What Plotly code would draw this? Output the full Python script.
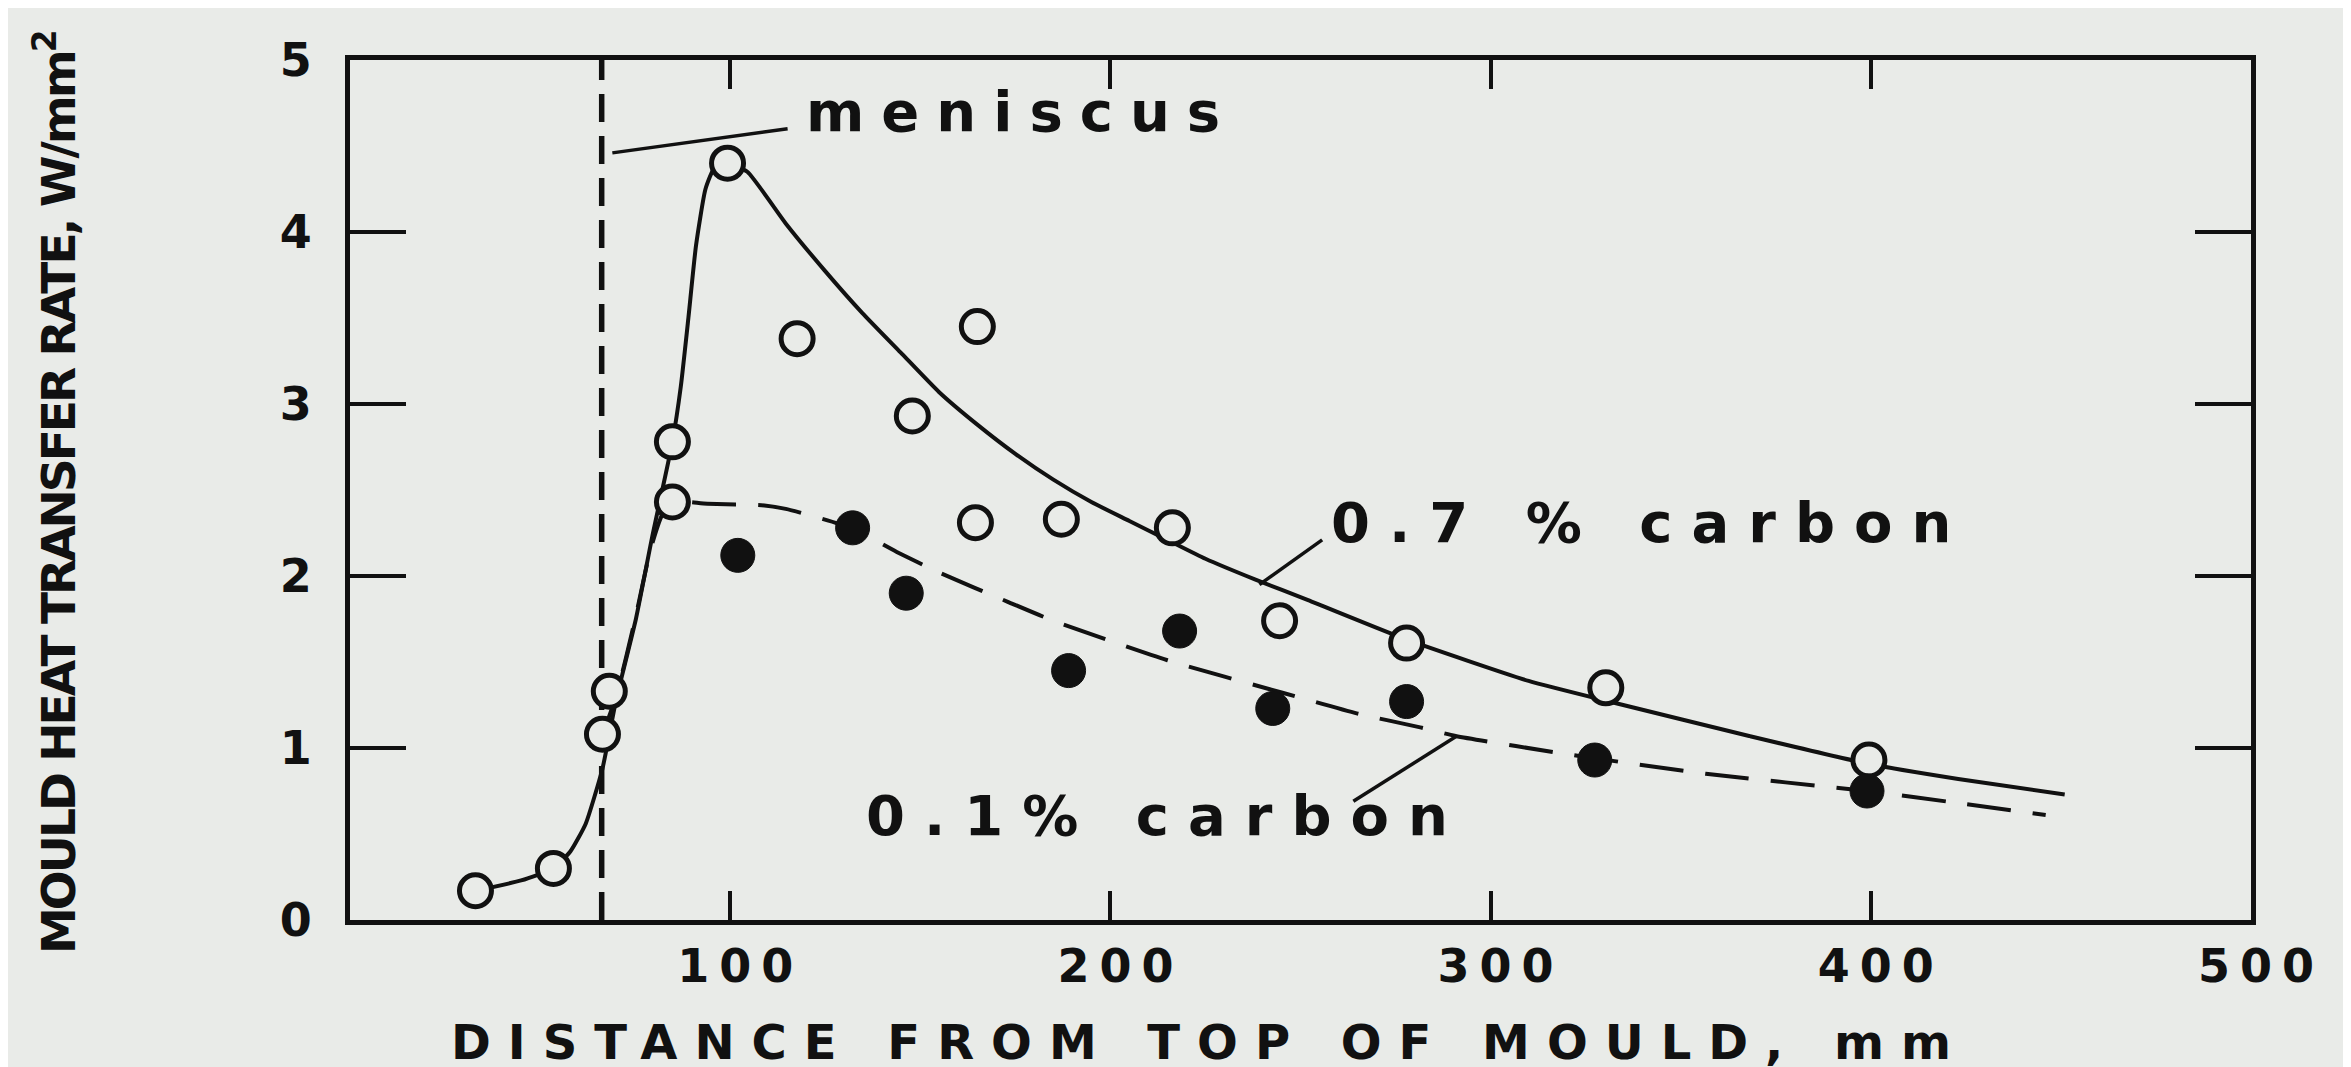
import plotly.graph_objects as go

# ---------------- data ----------------
# open circles (0.7 % carbon)
open_x = [33, 53.5, 66.4, 68.2, 84.8, 84.8, 99.3, 117.6, 147.9, 165, 164.5, 187.1, 216.3, 244.5, 277.9, 330.3, 399.5]
open_y = [0.17, 0.30, 1.08, 1.33, 2.78, 2.43, 4.40, 3.38, 2.93, 3.45, 2.31, 2.33, 2.28, 1.74, 1.61, 1.35, 0.93]
# filled circles (0.1 % carbon)
filled_x = [102, 132.2, 146.3, 189, 218.2, 242.7, 277.9, 327.4, 399]
filled_y = [2.12, 2.28, 1.90, 1.45, 1.68, 1.23, 1.27, 0.93, 0.75]

# fitted curve for 0.7 % carbon (solid)
solid_x = [33, 45, 53.5, 58, 62, 66.4, 70, 75.2, 79.6, 84.8, 87, 89, 91, 93.5, 96, 99.3, 104.5,
           114.6, 124.7, 134.7, 144.8, 154.9, 165, 175, 185, 195, 205, 215, 225, 238,
           252, 278, 310, 333, 368, 399, 423, 451]
solid_y = [0.17, 0.23, 0.30, 0.40, 0.56, 0.88, 1.28, 1.75, 2.24, 2.78, 3.10, 3.50, 3.92, 4.25, 4.38, 4.40, 4.35,
           4.05, 3.78, 3.53, 3.30, 3.07, 2.88, 2.71, 2.56, 2.43, 2.32, 2.21, 2.10, 1.98,
           1.86, 1.63, 1.39, 1.26, 1.07, 0.91, 0.82, 0.73]
# fitted curve for 0.1 % carbon (dashed)
dash_x = [66.4, 70, 75, 79, 82, 84.8, 94, 109, 114.6, 131.7, 143.8, 155, 173, 185, 215, 245.5,
          265, 281.5, 290.8, 321.4, 356.6, 399, 423, 446]
dash_y = [1.08, 1.30, 1.75, 2.15, 2.35, 2.43, 2.42, 2.41, 2.39, 2.28, 2.14, 2.02, 1.85, 1.74, 1.51, 1.32,
          1.20, 1.12, 1.07, 0.96, 0.85, 0.75, 0.68, 0.61]

# meniscus position
meniscus_x = 66.2

# label texts, anchor points and leader lines
labels = ["meniscus", "0.7 % carbon", "0.1% carbon"]
label_x = [119.5, 257.4, 135.3]
label_y = [4.70, 2.31, 0.61]
leader_x = [[69, 115.1], [239.2, 255.7], [290.9, 263.9]]
leader_y = [[4.46, 4.60], [1.95, 2.21], [1.067, 0.69]]

x_ticks = [100, 200, 300, 400, 500]
y_ticks = [0, 1, 2, 3, 4, 5]
x_title = "DISTANCE FROM TOP OF MOULD, mm"
y_title = "MOULD HEAT TRANSFER RATE, W/mm<sup>2</sup>"

# ---------------- style ----------------
INK = "#111111"
BG = "#e9ebe8"
FONT = "DejaVu Sans"

fig = go.Figure()

# vertical meniscus line
fig.add_trace(go.Scatter(x=[meniscus_x, meniscus_x], y=[0, 5], mode="lines",
                         line=dict(color=INK, width=5.5, dash="28px,14px"),
                         hoverinfo="skip", showlegend=False))

# curves
fig.add_trace(go.Scatter(x=dash_x, y=dash_y, mode="lines",
                         line=dict(color=INK, width=4, dash="44px,22px", shape="spline", smoothing=0.6),
                         showlegend=False))
fig.add_trace(go.Scatter(x=solid_x, y=solid_y, mode="lines",
                         line=dict(color=INK, width=4, shape="spline", smoothing=0.5),
                         showlegend=False))

# leader lines
for lx, ly in zip(leader_x, leader_y):
    fig.add_trace(go.Scatter(x=lx, y=ly, mode="lines", line=dict(color=INK, width=3.5),
                             hoverinfo="skip", showlegend=False))

# markers
fig.add_trace(go.Scatter(x=open_x, y=open_y, mode="markers",
                         marker=dict(symbol="circle", size=32, color=BG,
                                     line=dict(color=INK, width=5)),
                         showlegend=False))
fig.add_trace(go.Scatter(x=filled_x, y=filled_y, mode="markers",
                         marker=dict(symbol="circle", size=34, color=INK,
                                     line=dict(color=INK, width=1)),
                         showlegend=False))

# text labels
for t, lx, ly in zip(labels, label_x, label_y):
    sp = 17 if t == "meniscus" else 19
    fig.add_annotation(x=lx, y=ly, xref="x", yref="y", showarrow=False,
                       xanchor="left", yanchor="middle",
                       text=f'<span style="letter-spacing:{sp}px">{t}</span>',
                       font=dict(family=FONT, size=56, color=INK, weight="bold"))

# axis titles
fig.add_annotation(xref="paper", yref="paper", x=0.452, y=-0.1765, showarrow=False,
                   xanchor="center", yanchor="bottom",
                   text=f'<span style="letter-spacing:17px">{x_title}</span>',
                   font=dict(family=FONT, size=48, color=INK, weight="bold"))
fig.add_annotation(xref="paper", yref="paper", x=-0.155, y=0.497, showarrow=False,
                   xanchor="center", yanchor="middle", textangle=-90,
                   text=f'<span style="letter-spacing:-3px">{y_title}</span>',
                   font=dict(family=FONT, size=47, color=INK, weight="bold"))

tick_font = dict(family=FONT, size=46, color=INK, weight="bold")
fig.update_xaxes(range=[0, 500], tickvals=x_ticks,
                 ticktext=[f'<span style="letter-spacing:10px">{v}</span>' for v in x_ticks],
                 ticks="inside", ticklen=29, tickwidth=4, tickcolor=INK,
                 showline=True, linewidth=5, linecolor=INK, mirror="ticks",
                 showgrid=False, zeroline=False, tickfont=tick_font,
                 ticklabelstandoff=2, ticklabelshift=10)
fig.update_yaxes(range=[0, 5], tickvals=y_ticks, ticktext=[str(v) for v in y_ticks],
                 ticks="inside", ticklen=56, tickwidth=4, tickcolor=INK,
                 showline=True, linewidth=5, linecolor=INK, mirror="ticks",
                 showgrid=False, zeroline=False, tickfont=tick_font,
                 ticklabelstandoff=24)

fig.update_layout(width=2351, height=1067,
                  margin=dict(l=342, r=108, t=52, b=155),
                  paper_bgcolor=BG, plot_bgcolor=BG,
                  showlegend=False)

fig.write_html("out.html")
